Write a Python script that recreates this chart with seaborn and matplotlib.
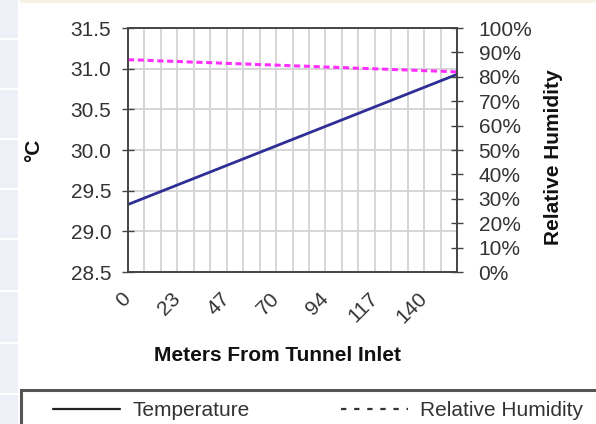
import numpy as np
import pandas as pd
import matplotlib
matplotlib.use("Agg")
import matplotlib.pyplot as plt
import matplotlib.ticker as mticker
from matplotlib.lines import Line2D
from matplotlib.patches import Rectangle
import seaborn as sns

# data
meters = [0, 8, 16, 23, 31, 39, 47, 55, 62, 70, 78, 86, 94, 101, 109, 117, 125, 133, 140, 148, 156]
temperature = [29.33, 29.41, 29.49, 29.57, 29.65, 29.73, 29.81, 29.89, 29.97, 30.05, 30.13,
               30.21, 30.29, 30.37, 30.45, 30.53, 30.61, 30.69, 30.77, 30.85, 30.93]
humidity = [0.870, 0.868, 0.865, 0.863, 0.860, 0.858, 0.855, 0.853, 0.850, 0.848, 0.845,
            0.843, 0.840, 0.838, 0.835, 0.833, 0.830, 0.828, 0.825, 0.823, 0.820]
shown_labels = ["0", "23", "47", "70", "94", "117", "140"]
temp_ticks = [28.5, 29.0, 29.5, 30.0, 30.5, 31.0, 31.5]
rh_ticks = [0.0, 0.1, 0.2, 0.3, 0.4, 0.5, 0.6, 0.7, 0.8, 0.9, 1.0]

df = pd.DataFrame({"pos": range(len(meters)), "meters": meters,
                   "Temperature": temperature, "RH": humidity})

sns.set_style("white")
plt.rcParams["font.family"] = ["Liberation Sans", "DejaVu Sans"]

W, H = 596, 424
FS = 15
fig = plt.figure(figsize=(W / 100, H / 100), dpi=100)

# page background bits seen in the screenshot
fig.patches.append(Rectangle((0, 0), 18 / W, 1, transform=fig.transFigure,
                             facecolor="#edf1f7", edgecolor="none", zorder=-5))
for gy in [38, 88, 138, 188, 238, 290, 342, 393]:
    fig.patches.append(Rectangle((0, 1 - (gy + 2) / H), 18 / W, 2 / H, transform=fig.transFigure,
                                 facecolor="white", edgecolor="none", zorder=-4))
fig.patches.append(Rectangle((20 / W, 1 - 3 / H), 1, 3 / H, transform=fig.transFigure,
                             facecolor="#f8f2e6", edgecolor="none", zorder=-5))

left, right, top, bottom = 128, 457, 28, 272
ax = fig.add_axes([left / W, 1 - bottom / H, (right - left) / W, (bottom - top) / H])

sns.lineplot(data=df, x="pos", y="Temperature", color="#2e2e96", lw=2.0, ax=ax)
ax2 = ax.twinx()
sns.lineplot(data=df, x="pos", y="RH", color="#ff30ff", lw=2.2, ax=ax2)
ax2.lines[0].set_dashes([2, 1.2])

ax.set_xlim(0, len(meters) - 1)
ax.set_ylim(28.5, 31.5)
ax2.set_ylim(0, 1)

ax.set_xticks(df["pos"])
ax.set_xticklabels([str(m) if str(m) in shown_labels else "" for m in meters],
                   rotation=45, ha="right", va="center", rotation_mode="anchor")
ax.set_yticks(temp_ticks)
ax.yaxis.set_major_formatter(mticker.FormatStrFormatter("%.1f"))
ax2.set_yticks(rh_ticks)
ax2.yaxis.set_major_formatter(mticker.PercentFormatter(1.0, decimals=0))

ax.grid(True, color="#d6d6d6", lw=1.4)
ax.set_axisbelow(True)
ax2.grid(False)

for a in (ax, ax2):
    a.tick_params(direction="inout", length=8, width=1, color="#444444",
                  labelsize=FS, labelcolor="#333333")
    for s in a.spines.values():
        s.set_color("#444444")
        s.set_linewidth(1.2)
ax.tick_params(axis="y", pad=8)
ax.tick_params(axis="x", pad=13)
ax2.tick_params(axis="y", pad=11.5)

ax.set_xlabel("Meters From Tunnel Inlet", fontsize=FS, fontweight="bold", color="#111111")
ax.xaxis.set_label_coords((278 - left) / (right - left), -(346 - bottom) / (bottom - top))
ax.set_ylabel("°C", fontsize=FS, fontweight="bold", color="#111111")
ax.yaxis.set_label_coords(-(left - 43) / (right - left), 0.5)
ax2.set_ylabel("Relative Humidity", fontsize=FS, fontweight="bold", color="#111111")
ax2.yaxis.set_label_coords((544 - left) / (right - left), 0.47)

# legend box runs off the right and bottom edges in the reference
fig.patches.append(Rectangle((21 / W, -0.1), 1, 0.1 + 1 - 390 / H, transform=fig.transFigure,
                             facecolor="none", edgecolor="#555555", lw=2.2, zorder=3))
handles = [Line2D([], [], color="#222222", lw=1.6),
           Line2D([], [], color="#333333", lw=1.6, dashes=[2.4, 3.5])]
leg = fig.legend(handles, ["Temperature", "Relative Humidity"], loc="center left",
                 bbox_to_anchor=(53 / W, 1 - 411 / H), ncol=2, frameon=False,
                 fontsize=FS, handlelength=3.2, handletextpad=0.6, columnspacing=4.4,
                 borderpad=0, borderaxespad=0)
for t in leg.get_texts():
    t.set_color("#333333")

fig.savefig("out.png", dpi=100)
